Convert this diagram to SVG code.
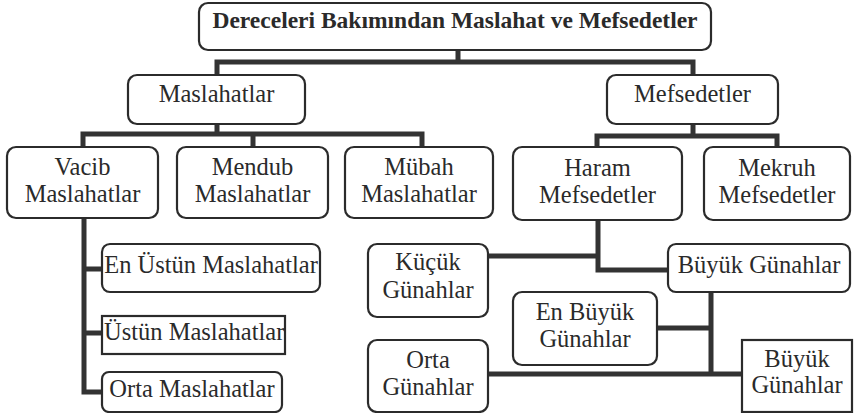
<svg xmlns="http://www.w3.org/2000/svg" width="854" height="413" viewBox="0 0 854 413">
<style>
.b{fill:#fff;stroke:#2b2b2b;stroke-width:2.2}
.t{font-family:"Liberation Serif","Times New Roman",serif;font-size:24.5px;fill:#2a2a2a;text-anchor:middle}
.tt{font-weight:bold;font-size:23.5px}
.c{fill:none;stroke:#333;stroke-width:5;stroke-linejoin:miter;stroke-linecap:butt}
</style>
<rect width="854" height="413" fill="#fff"/>
<g id="connectors">
<path class="c" d="M458,50 V62 M217,75 V62 H693 V75"/>
<path class="c" d="M217,124 V134 M83,147 V134 H422 V147 M253,134 V147"/>
<path class="c" d="M693,124 V136 M597,147 V136 H777 V147"/>
<path class="c" d="M598,220 V270 H668 M488,256 H598"/>
<path class="c" d="M711,292 V374 M657,328 H711 M488,374 H742"/>
<path class="c" d="M84,218 V392 H102 M84,269 H102 M84,333 H102"/>
</g>
<g id="title"><rect class="b" x="199" y="3" width="512" height="47" rx="9"/><text class="t tt" x="455" y="28">Dereceleri Bakımından Maslahat ve Mefsedetler</text></g>
<g id="maslahatlar"><rect class="b" x="128" y="75" width="177" height="49" rx="9"/><text class="t" x="216.5" y="102">Maslahatlar</text></g>
<g id="mefsedetler"><rect class="b" x="607" y="75" width="171" height="49" rx="9"/><text class="t" x="692.5" y="102">Mefsedetler</text></g>
<g id="vacib"><rect class="b" x="7" y="147" width="151" height="71" rx="9"/><text class="t" x="82.5" y="175">Vacib</text><text class="t" x="82.5" y="202">Maslahatlar</text></g>
<g id="mendub"><rect class="b" x="177" y="147" width="151" height="71" rx="9"/><text class="t" x="252.5" y="175">Mendub</text><text class="t" x="252.5" y="202">Maslahatlar</text></g>
<g id="mubah"><rect class="b" x="345" y="147" width="148" height="71" rx="9"/><text class="t" x="419" y="175">Mübah</text><text class="t" x="419" y="202">Maslahatlar</text></g>
<g id="haram"><rect class="b" x="513" y="147" width="169" height="73" rx="9"/><text class="t" x="597.5" y="176">Haram</text><text class="t" x="597.5" y="203">Mefsedetler</text></g>
<g id="mekruh"><rect class="b" x="704" y="147" width="146" height="73" rx="9"/><text class="t" x="777" y="176">Mekruh</text><text class="t" x="777" y="203">Mefsedetler</text></g>
<g id="en-ustun"><rect class="b" x="102" y="244" width="218" height="48" rx="8"/><text class="t" x="211" y="273">En Üstün Maslahatlar</text></g>
<g id="ustun"><rect class="b" x="102" y="316" width="183" height="38"/><text class="t" x="104" y="340" style="text-anchor:start">Üstün Maslahatlar</text></g>
<g id="orta-maslahatlar"><rect class="b" x="102" y="372" width="180" height="40" rx="7"/><text class="t" x="192" y="397">Orta Maslahatlar</text></g>
<g id="kucuk"><rect class="b" x="368" y="244" width="120" height="73" rx="9"/><text class="t" x="428" y="270">Küçük</text><text class="t" x="428" y="298">Günahlar</text></g>
<g id="buyuk-gunahlar"><rect class="b" x="668" y="244" width="182" height="48" rx="8"/><text class="t" x="759" y="273">Büyük Günahlar</text></g>
<g id="en-buyuk"><rect class="b" x="513" y="292" width="144" height="73" rx="9"/><text class="t" x="585" y="320">En Büyük</text><text class="t" x="585" y="347">Günahlar</text></g>
<g id="orta-gunahlar"><rect class="b" x="368" y="340" width="120" height="72" rx="9"/><text class="t" x="428" y="368">Orta</text><text class="t" x="428" y="395">Günahlar</text></g>
<g id="buyuk"><rect class="b" x="742" y="340" width="110" height="72"/><text class="t" x="797" y="367">Büyük</text><text class="t" x="797" y="393">Günahlar</text></g>
</svg>
